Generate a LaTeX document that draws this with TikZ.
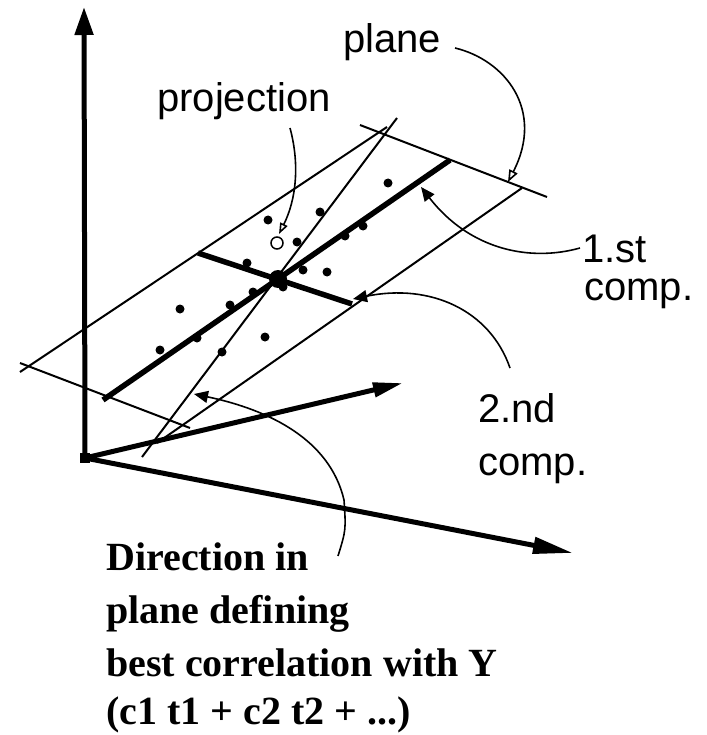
\documentclass[tikz,border=0pt]{standalone}
\usepackage{fontspec}
\setmainfont{Liberation Serif}
\newfontfamily\labelsans{Liberation Sans}
\usetikzlibrary{arrows.meta}
\begin{document}
\begin{tikzpicture}[x=1pt,y=-1pt,
  planeline/.style={line width=2pt},
  axisline/.style={line width=5pt},
  compline/.style={line width=5.5pt},
  callout/.style={line width=1.6pt},
  datadot/.style={circle,fill,inner sep=0pt,minimum size=9pt},
  sanslabel/.style={font=\labelsans\fontsize{40}{44}\selectfont, inner sep=0pt, anchor=base west},
  boldlabel/.style={font=\bfseries\fontsize{40}{44}\selectfont, inner sep=0pt, anchor=base west}]
\useasboundingbox (0,0) rectangle (706,735);

% axes
\coordinate (O) at (85,458);
\coordinate (Ytop) at (84,7);
\coordinate (Xend) at (573,553);
\coordinate (Zend) at (403,383);
\draw[axisline,-{Triangle[length=28pt,width=18pt]}] (O) -- (Ytop);
\draw[axisline,-{Triangle[length=40pt,width=16pt]}] (O) -- (Xend);
\draw[axisline,-{Triangle[length=30pt,width=14pt]}] (O) -- (Zend);
\fill (O) ++(-5,-5) rectangle ++(10,10);

% plane edges
\coordinate (ULa) at (20,372);  \coordinate (ULb) at (387,127);
\coordinate (LLa) at (157,443); \coordinate (LLb) at (522,188);
\coordinate (SLa) at (20,363);  \coordinate (SLb) at (190,428);
\coordinate (SRa) at (360,125); \coordinate (SRb) at (547,197);
\coordinate (Da) at (142,457);  \coordinate (Db) at (397,118);
\draw[planeline] (ULa) -- (ULb);
\draw[planeline] (LLa) -- (LLb);
\draw[planeline] (SLa) -- (SLb);
\draw[planeline] (SRa) -- (SRb);
\draw[planeline] (Da) -- (Db);

% components
\coordinate (C1a) at (103,400); \coordinate (C1b) at (450,160);
\coordinate (C2a) at (198,253); \coordinate (C2b) at (352,304);
\draw[compline] (C1a) -- (C1b);
\draw[compline] (C2a) -- (C2b);
\fill (278,279) circle (9);

% data points
\foreach \p in {(268,220),(320,212),(297,242),(388,183),(345,236),(363,226),
  (247,263),(303,270),(327,272),(253,292),(230,305),(180,309),(265,337),
  (160,350),(222,352),(197,338),(283,287)}
  \node[datadot] at \p {};
\node[circle,draw,line width=1.5pt,inner sep=0pt,minimum size=12pt] (proj) at (277,243) {};

% labels
\node[sanslabel] (plane) at (343,53) {plane};
\node[sanslabel] (projection) at (157,112) {projection};
\node[sanslabel] (first) at (582,262) {1.st};
\node[sanslabel] (firstb) at (584,300) {comp.};
\node[sanslabel] (second) at (478,422) {2.nd};
\node[sanslabel] (secondb) at (478,475) {comp.};
\node[boldlabel] (d1) at (106,570) {Direction in};
\node[boldlabel] (d2) at (106,623) {plane defining};
\node[boldlabel] (d3) at (106,676) {best correlation with Y};
\node[boldlabel] (d4) at (106,724) {(c1 t1 + c2 t2 + ...)};

% callouts
\coordinate (plS) at (455,48);  \coordinate (plE) at (508,182);
\draw[callout,-{Triangle[open,length=12pt,width=9pt]}] (plS) .. controls (505,60) and (545,110) .. (plE);
\coordinate (prS) at (290,128); \coordinate (prE) at (279,234);
\draw[callout,-{Triangle[open,length=11pt,width=8pt]}] (prS) .. controls (300,165) and (296,200) .. (prE);
\coordinate (c1S) at (580,248); \coordinate (c1E) at (421,187);
\draw[callout,-{Triangle[length=14pt,width=12pt]}] (c1S) .. controls (530,262) and (470,250) .. (c1E);
\coordinate (c2S) at (510,368); \coordinate (c2E) at (353,299);
\draw[callout,-{Triangle[length=14pt,width=12pt]}] (c2S) .. controls (490,310) and (430,283) .. (c2E);
\coordinate (dS) at (338,556); \coordinate (dM) at (344,500); \coordinate (dE) at (194,394);
\draw[callout,-{Triangle[length=14pt,width=12pt]}] (dS) .. controls (346,530) .. (dM) .. controls (330,440) and (270,410) .. (dE);
\end{tikzpicture}
\end{document}
